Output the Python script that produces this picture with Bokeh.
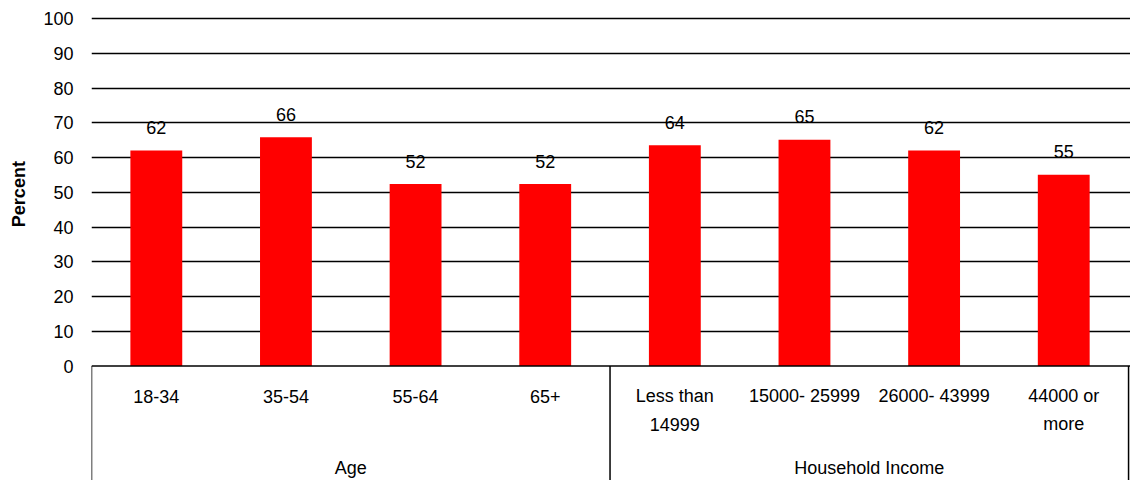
import math
from bokeh.plotting import figure
from bokeh.layouts import row
from bokeh.models import Range1d, FixedTicker, ColumnDataSource
from bokeh.core.properties import value
from bokeh.embed import file_html
from bokeh.resources import INLINE

categories = ["18-34", "35-54", "55-64", "65+", "Less than\n14999", "15000- 25999", "26000- 43999", "44000 or\nmore"]
values = [62.1, 65.9, 52.4, 52.4, 63.6, 65.2, 62.1, 55.1]
groups = ["Age", "Household Income"]
group_sizes = [4, 4]
y_ticks = [0, 10, 20, 30, 40, 50, 60, 70, 80, 90, 100]
y_title = "Percent"

FONT = "Liberation Sans"
FS = "18px"
W, H = 1130, 480
TITLE_W = 40
LEFT = 85
PX_PER_UNIT = 3.472
ZERO_PX = 365.5

y_top = ZERO_PX / PX_PER_UNIT
y_bot = -(H - ZERO_PX) / PX_PER_UNIT

# narrow panel carrying the rotated y-axis title
t = figure(width=TITLE_W, height=H, output_backend="svg", toolbar_location=None,
           x_range=Range1d(0, TITLE_W), y_range=Range1d(y_bot, y_top),
           min_border_left=0, min_border_right=0, min_border_top=0, min_border_bottom=0)
t.axis.visible = False
t.grid.visible = False
t.outline_line_color = None
t.text(x=[18], y=[49.5], text=[y_title], angle=math.pi / 2,
       text_align="center", text_baseline="middle", text_font=value(FONT),
       text_font_style="bold", text_font_size=FS, text_color="black")

p = figure(width=W - TITLE_W, height=H, output_backend="svg", toolbar_location=None,
           x_range=Range1d(0, len(categories) + 0.015), y_range=Range1d(y_bot, y_top),
           min_border_left=LEFT - TITLE_W, min_border_right=0, min_border_top=0, min_border_bottom=0)
p.outline_line_color = None
p.xaxis.visible = False
p.xgrid.visible = False
p.background_fill_color = "white"
p.border_fill_color = "white"

yax = p.yaxis[0]
yax.ticker = FixedTicker(ticks=y_ticks)
yax.axis_line_color = None
yax.major_tick_line_color = None
yax.minor_tick_line_color = None
yax.major_label_text_font = FONT
yax.major_label_text_font_size = FS
yax.major_label_text_color = "black"
yax.major_label_standoff = 12

p.ygrid.ticker = FixedTicker(ticks=y_ticks[1:])
p.ygrid.grid_line_color = "black"
p.ygrid.grid_line_width = 1.5

xs = [i + 0.5 for i in range(len(categories))]
line1 = [c.split("\n")[0] for c in categories]
line2 = [c.split("\n")[1] if "\n" in c else "" for c in categories]
src = ColumnDataSource(dict(x=xs, top=values, l1=line1, l2=line2,
                            lab=[str(round(v)) for v in values]))

p.vbar(x="x", top="top", bottom=0, width=0.4, source=src, fill_color="#ff0000", line_color=None)

p.text(x="x", y="top", text="lab", source=src, y_offset=-23, text_align="center",
       text_baseline="middle", text_font=value(FONT), text_font_size=FS, text_color="black")

# category axis box
n = len(categories)
p.segment(x0=[0], y0=[0], x1=[n + 0.015], y1=[0], line_color="black", line_width=1.5)
bounds = [0]
for s in group_sizes:
    bounds.append(bounds[-1] + s)
p.segment(x0=bounds, y0=[0] * len(bounds), x1=bounds, y1=[y_bot - 5] * len(bounds),
          line_color="black", line_width=1.5)

for col, off in (("l1", 30), ("l2", 58)):
    p.text(x="x", y=0, text=col, source=src, y_offset=off, text_align="center",
           text_baseline="middle", text_font=value(FONT),
           text_font_size=FS, text_color="black")

gx = [(bounds[i] + bounds[i + 1]) / 2 for i in range(len(groups))]
gsrc = ColumnDataSource(dict(x=gx, g=groups))
p.text(x="x", y=y_bot, text="g", source=gsrc, y_offset=-13, text_align="center",
       text_baseline="middle", text_font=value(FONT), text_font_size=FS, text_color="black")

layout = row(t, p, spacing=0)
open("out.html", "w").write(file_html(layout, INLINE))
